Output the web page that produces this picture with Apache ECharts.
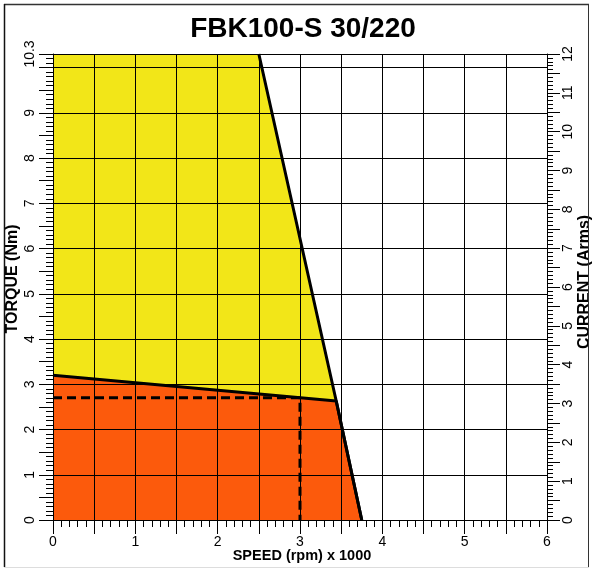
<!DOCTYPE html>
<html><head><meta charset="utf-8">
<script src="https://cdn.jsdelivr.net/npm/echarts@6/dist/echarts.min.js"></script>
<style>html,body{margin:0;padding:0;background:#fff}#c{width:592px;height:569px}</style>
</head><body><div id="c"></div>
<script>
const titleText = 'FBK100-S 30/220';
const xName = 'SPEED (rpm) x 1000';
const yLeftName = 'TORQUE (Nm)';
const yRightName = 'CURRENT (Arms)';
const speedRange = [0, 6];
const torqueRange = [0, 10.3];
const currentRange = [0, 12];
// intermittent (peak) zone boundary: [speed, torque]
const peakFill = [[0, 10.3], [2.5, 10.3], [3.44, 2.63], [3.75, 0]];
const peakEdge = [[2.5, 10.3], [3.44, 2.63], [3.75, 0]];
// continuous zone boundary
const contCurve = [[0, 3.2], [3.44, 2.63], [3.75, 0]];
// rated point guide lines
const ratedGuide = [[0, 2.7], [3.0, 2.7], [3.0, 0]];

const FONT = '"Liberation Sans", Arial, sans-serif';
const isInt = v => Math.abs(v - Math.round(v)) < 1e-6;
const blackLine = {color: '#000', width: 1};

const chart = echarts.init(document.getElementById('c'), null, {renderer: 'canvas'});
chart.setOption({
  animation: false,
  backgroundColor: '#fff',
  grid: {left: 53, right: 45, top: 54, bottom: 49},
  xAxis: {
    type: 'value', min: speedRange[0], max: speedRange[1], interval: 0.5, z: 3,
    axisLine: {show: true, onZero: false, lineStyle: blackLine},
    axisTick: {show: true, length: 14, lineStyle: blackLine},
    minorTick: {show: true, splitNumber: 5, length: 7, lineStyle: blackLine},
    splitLine: {show: true, lineStyle: blackLine},
    axisLabel: {margin: 15, color: '#000', fontSize: 14, fontFamily: FONT,
      formatter: v => isInt(v) ? String(Math.round(v)) : ''}
  },
  yAxis: [{
    // torque: labels + integer grid lines
    type: 'value', position: 'left', min: torqueRange[0], max: torqueRange[1], interval: 1, z: 3,
    axisLine: {show: true, onZero: false, lineStyle: blackLine},
    axisTick: {show: false},
    splitLine: {show: true, lineStyle: blackLine},
    axisLabel: {rotate: 90, margin: 16, color: '#000', fontSize: 14, fontFamily: FONT,
      showMaxLabel: true, showMinLabel: true,
      formatter: v => Math.abs(v - 10.3) < 1e-6 ? '10.3' : (isInt(v) && Math.round(v) !== 10 ? String(Math.round(v)) : '')}
  }, {
    // torque: ticks only
    type: 'value', position: 'left', offset: 0, min: torqueRange[0], max: torqueRange[1], interval: 0.5, z: 3,
    axisLine: {show: false},
    axisTick: {show: true, length: 14, lineStyle: blackLine},
    minorTick: {show: true, splitNumber: 5, length: 7, lineStyle: blackLine},
    splitLine: {show: false},
    axisLabel: {show: false}
  }, {
    type: 'value', position: 'right', min: currentRange[0], max: currentRange[1], interval: 0.5, z: 3,
    axisLine: {show: true, onZero: false, lineStyle: blackLine},
    axisTick: {show: true, length: 13, lineStyle: blackLine},
    minorTick: {show: true, splitNumber: 5, length: 6, lineStyle: blackLine},
    splitLine: {show: false},
    axisLabel: {rotate: 90, margin: 14, color: '#000', fontSize: 14, fontFamily: FONT,
      formatter: v => isInt(v) ? String(Math.round(v)) : ''}
  }],
  series: [
    {type: 'line', yAxisIndex: 0, data: peakFill, showSymbol: false, z: 1, silent: true,
      lineStyle: {width: 0}, areaStyle: {color: '#F2E618', opacity: 1}},
    {type: 'line', yAxisIndex: 0, data: contCurve, showSymbol: false, z: 2, silent: true,
      lineStyle: {width: 0}, areaStyle: {color: '#FC5A0C', opacity: 1}},
    {type: 'line', yAxisIndex: 0, data: ratedGuide, showSymbol: false, z: 9, silent: true,
      lineStyle: {color: '#000', width: 3, type: [9, 5]}},
    {type: 'line', yAxisIndex: 0, data: peakEdge, showSymbol: false, z: 10, silent: true,
      lineStyle: {color: '#000', width: 3}},
    {type: 'line', yAxisIndex: 0, data: contCurve, showSymbol: false, z: 10, silent: true,
      lineStyle: {color: '#000', width: 3}}
  ],
  graphic: [
    {type: 'text', x: 303, y: 29, z: 20, style: {text: titleText, font: 'bold 28px ' + FONT, fill: '#000', align: 'center', verticalAlign: 'middle'}},
    {type: 'text', x: 302, y: 556, z: 20, style: {text: xName, font: 'bold 14.5px ' + FONT, fill: '#000', align: 'center', verticalAlign: 'middle'}},
    {type: 'text', x: 13, y: 279, rotation: Math.PI / 2, z: 20, style: {text: yLeftName, font: 'bold 16px ' + FONT, fill: '#000', align: 'center', verticalAlign: 'middle'}},
    {type: 'text', x: 585, y: 282, rotation: Math.PI / 2, z: 20, style: {text: yRightName, font: 'bold 16px ' + FONT, fill: '#000', align: 'center', verticalAlign: 'middle'}},
    {type: 'line', z: 20, shape: {x1: 4, y1: 4.5, x2: 589, y2: 4.5}, style: {stroke: '#333', lineWidth: 1.5}},
    {type: 'line', z: 20, shape: {x1: 4.5, y1: 4, x2: 4.5, y2: 567}, style: {stroke: '#111', lineWidth: 1.5}},
    {type: 'line', z: 20, shape: {x1: 588.5, y1: 4, x2: 588.5, y2: 567}, style: {stroke: '#333', lineWidth: 1}},
    {type: 'line', z: 20, shape: {x1: 4, y1: 567.5, x2: 589, y2: 567.5}, style: {stroke: '#ddd', lineWidth: 1}}
  ]
});
</script></body></html>
